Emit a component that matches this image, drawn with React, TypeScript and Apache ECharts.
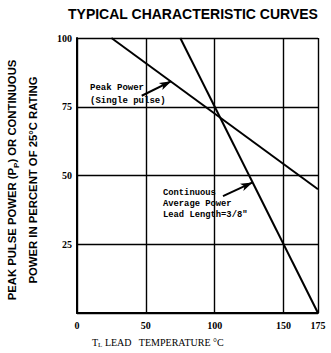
import React, { useEffect, useRef } from "react";
import * as echarts from "echarts";

const peakPower: [number, number][] = [[25, 100], [175, 45]];
const continuousPower: [number, number][] = [[75, 100], [175, 0]];
const xTicks = [0, 50, 100, 150, 175];
const yTicks = [25, 50, 75, 100];
const peakLabel = ["Peak Power", "(Single pulse)"];
const contLabel = ["Continuous", "Average Power", 'Lead Length=3/8"'];

export default function App() {
  const ref = useRef<HTMLDivElement>(null);
  useEffect(() => {
    if (!ref.current) return;
    const chart = echarts.init(ref.current, undefined, { renderer: "svg" });
    const serifLbl = { fontFamily: "Liberation Serif", fontWeight: "bold" as const, fontSize: 10, color: "#000" };
    const mono = "Liberation Mono";
    chart.setOption({
      animation: false,
      backgroundColor: "#fff",
      grid: { left: 77, right: 13, top: 38, bottom: 40, containLabel: false },
      xAxis: {
        type: "value",
        min: 0,
        max: 175,
        interval: 50,
        axisLine: { show: true, lineStyle: { color: "#000", width: 2 } },
        axisTick: { show: false },
        splitLine: { show: true, lineStyle: { color: "#000", width: 1.4 } },
        axisLabel: {
          ...serifLbl,
          margin: 7,
          showMaxLabel: true,
          formatter: (v: number) => (xTicks.includes(v) ? String(v) : ""),
        },
      },
      yAxis: {
        type: "value",
        min: 0,
        max: 100,
        interval: 25,
        axisLine: { show: true, lineStyle: { color: "#000", width: 2 } },
        axisTick: { show: false },
        splitLine: { show: true, lineStyle: { color: "#000", width: 1.4 } },
        axisLabel: {
          ...serifLbl,
          margin: 5,
          formatter: (v: number) => (yTicks.includes(v) ? String(v) : ""),
        },
      },
      series: [
        {
          type: "line",
          data: peakPower,
          symbol: "none",
          lineStyle: { color: "#000", width: 2 },
          markLine: {
            silent: true,
            symbol: ["none", "arrow"],
            symbolSize: [6, 12],
            label: { show: false },
            lineStyle: { color: "#000", width: 2, type: "solid" },
            data: [[{ coord: [47, 79] }, { coord: [68.5, 84.3] }]],
          },
        },
        {
          type: "line",
          data: continuousPower,
          symbol: "none",
          lineStyle: { color: "#000", width: 2 },
          markLine: {
            silent: true,
            symbol: ["none", "arrow"],
            symbolSize: [6, 12],
            label: { show: false },
            lineStyle: { color: "#000", width: 2, type: "solid" },
            data: [[{ coord: [106, 42.5] }, { coord: [127.5, 47.5] }]],
          },
        },
      ],
      graphic: [
        {
          type: "text",
          left: 68,
          top: 7,
          style: {
            text: "TYPICAL CHARACTERISTIC CURVES",
            font: "bold 14px 'Liberation Sans'",
            fill: "#000",
          },
        },
        {
          type: "text",
          x: 12,
          y: 180,
          rotation: Math.PI / 2,
          style: {
            text: "PEAK PULSE POWER (P{s|P}) OR CONTINUOUS",
            font: "bold 11.3px 'Liberation Sans'",
            fill: "#000",
            align: "center",
            verticalAlign: "middle",
            rich: { s: { font: "bold 8px 'Liberation Sans'", fill: "#000", padding: [8, 0, 0, 0] } },
          },
        },
        {
          type: "text",
          x: 33,
          y: 180,
          rotation: Math.PI / 2,
          style: {
            text: "POWER IN PERCENT OF 25°C RATING",
            font: "bold 11.3px 'Liberation Sans'",
            fill: "#000",
            align: "center",
            verticalAlign: "middle",
          },
        },
        {
          type: "text",
          x: 90,
          y: 81,
          style: {
            text: peakLabel.join("\n"),
            font: `bold 9px '${mono}'`,
            lineHeight: 13,
            fill: "#000",
          },
        },
        {
          type: "text",
          x: 163,
          y: 187,
          style: {
            text: contLabel.join("\n"),
            font: `bold 8.8px '${mono}'`,
            lineHeight: 11,
            fill: "#000",
          },
        },
        {
          type: "text",
          x: 92,
          y: 336,
          style: {
            text: "T{sub|L} LEAD   TEMPERATURE °C",
            font: "10px 'Liberation Serif'",
            fill: "#000",
            rich: { sub: { font: "7px 'Liberation Serif'", fill: "#000", padding: [5, 0, 0, 0] } },
          },
        },
      ],
    });
    return () => chart.dispose();
  }, []);
  return <div ref={ref} style={{ position: "fixed", left: 0, top: 0, width: 331, height: 353 }} />;
}
